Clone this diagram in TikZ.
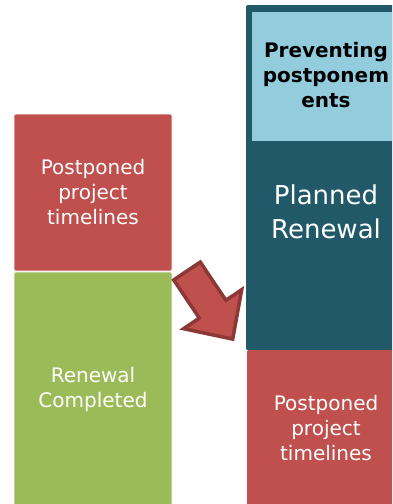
\documentclass[tikz,border=0pt]{standalone}
\usepackage{fontspec}
\setmainfont{DejaVu Sans}
\definecolor{boxred}{HTML}{C0504D}
\definecolor{boxgreen}{HTML}{9BBB59}
\definecolor{deepteal}{HTML}{215968}
\definecolor{paleblue}{HTML}{93CDDD}
\definecolor{arrowedge}{HTML}{8C3836}
\begin{document}
\begin{tikzpicture}[x=1pt,y=-1pt,
  panel/.style={draw=white,line width=0.6pt,rounded corners=1.5pt,inner sep=0pt,
    text=white,align=center,font=\fontsize{20}{25}\selectfont},
  bigtext/.style={text=white,align=center,font=\fontsize{26}{34}\selectfont},
  headtext/.style={text=black,align=center,font=\bfseries\fontsize{20}{25}\selectfont}]
\clip (0,0) rectangle (392,504);
\fill[white] (0,0) rectangle (392,504);

% left column: postponed block above the completed block
\node[panel,fill=boxred,minimum width=158pt,minimum height=157pt] (postA) at (93,192.5)
  {Postponed\\project\\timelines};
\node[panel,fill=boxgreen,minimum width=158pt,minimum height=234pt] (done) at (93,389)
  {Renewal\\Completed};

% right column: planned renewal with its header and postponed block
\node[fill=deepteal,minimum width=160pt,minimum height=345pt,inner sep=0pt,
  rounded corners=1.5pt] (plan) at (326,177.5) {};
\node[fill=paleblue,minimum width=148pt,minimum height=129pt,inner sep=0pt] (prevent) at (326,76.5) {};
\node[headtext] (preventtxt) at (326,75) {Preventing\\postponem\\ents};
\node[bigtext] (plantxt) at (326,212) {Planned\\Renewal};
\node[panel,draw=none,fill=boxred,minimum width=158pt,minimum height=156pt] (postB) at (326,428)
  {Postponed\\project\\timelines};

% block arrow pointing from the left column down into the right column
\draw[fill=boxred,draw=arrowedge,line width=3.5pt,line join=miter]
  (200.3,262.1) -- (225.9,300.3) -- (241.7,289.7) -- (232.7,339.1)
  -- (183.6,328.7) -- (199.3,318.1) -- (173.7,279.9) -- cycle;
\end{tikzpicture}
\end{document}
